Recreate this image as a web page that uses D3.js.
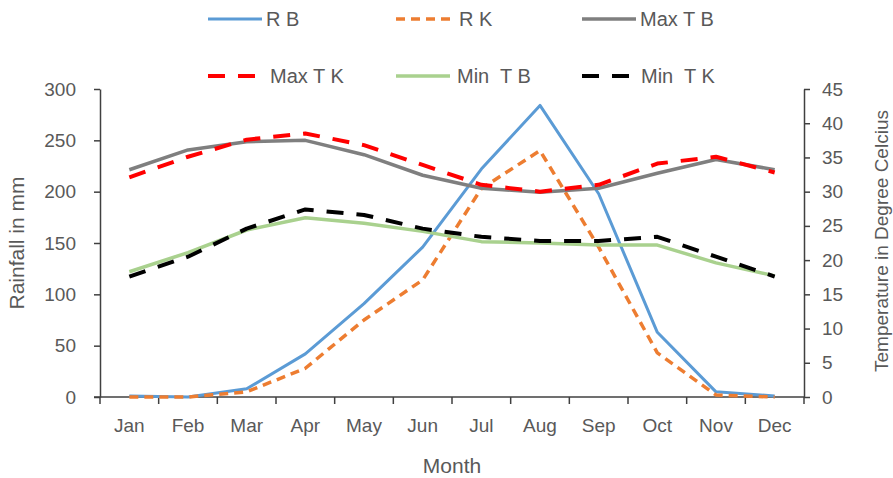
<!DOCTYPE html>
<html>
<head>
<meta charset="utf-8">
<script src="https://cdn.jsdelivr.net/npm/d3@7"></script>
<style>
  body { margin: 0; background: #fff; }
  text { font-family: "Liberation Sans", Arial, sans-serif; fill: #595959; white-space: pre; }
</style>
</head>
<body>
<div id="chart-area"></div>
<script>
var months = ["Jan","Feb","Mar","Apr","May","Jun","Jul","Aug","Sep","Oct","Nov","Dec"]

// rainfall (mm)
var rainB = [1, 0, 8, 42, 91, 146, 222, 284, 198, 63, 5, 1]
var rainK = [0, 0, 5, 28, 75, 114, 203, 240, 146, 43, 2, 0]
// temperature (deg C)
var maxTB = [33.2, 36.1, 37.3, 37.5, 35.4, 32.4, 30.5, 29.9, 30.5, 32.7, 34.7, 33.2]
var maxTK = [32.1, 35.1, 37.6, 38.5, 36.8, 33.9, 31.0, 30.0, 31.0, 34.1, 35.1, 32.8]
var minTB = [18.3, 21.1, 24.4, 26.2, 25.4, 24.2, 22.7, 22.5, 22.2, 22.2, 19.6, 17.7]
var minTK = [17.6, 20.5, 24.6, 27.4, 26.6, 24.6, 23.4, 22.8, 22.8, 23.4, 20.5, 17.6]

var rainTicks = [0, 50, 100, 150, 200, 250, 300]
var tempTicks = [0, 5, 10, 15, 20, 25, 30, 35, 40, 45]

var series = [
  {name: "R B", values: rainB, axis: "rain", color: "#5B9BD5", width: 3, dash: null, lx: 208, ly: 19, tx: 266},
  {name: "R K", values: rainK, axis: "rain", color: "#ED7D31", width: 3.5, dash: "9,6", lx: 396, ly: 19, tx: 459},
  {name: "Max T B", values: maxTB, axis: "temp", color: "#7F7F7F", width: 3.5, dash: null, lx: 582, ly: 19, tx: 640},
  {name: "Max T K", values: maxTK, axis: "temp", color: "#FF0000", width: 4, dash: "17,13", lx: 208, ly: 76, tx: 270},
  {name: "Min  T B", values: minTB, axis: "temp", color: "#A9D18E", width: 3.5, dash: null, lx: 396, ly: 76, tx: 457},
  {name: "Min  T K", values: minTK, axis: "temp", color: "#000000", width: 4, dash: "17,13", lx: 582, ly: 76, tx: 641}
]

var cw = 893, ch = 478
var m = {l: 100, t: 89, r: 89, b: 81}
var w = cw - m.l - m.r
var h = ch - m.t - m.b

var svg = d3.select("#chart-area").append("svg")
    .attr("width", cw)
    .attr("height", ch)

var g = svg.append("g").attr("transform", "translate(" + m.l + ", " + m.t + ")")

var x = d3.scaleBand()
    .domain(months)
    .range([0, w])

var yR = d3.scaleLinear().domain([0, 300]).range([h, 0])
var yT = d3.scaleLinear().domain([0, 45]).range([h, 0])

var axisColor = "#404040"

// left axis
var leftAxis = d3.axisLeft(yR).tickValues(rainTicks).tickSize(6).tickSizeOuter(0).tickPadding(18)
var la = g.append("g").call(leftAxis)
la.select(".domain").attr("stroke", axisColor).attr("stroke-width", 1.5)
la.selectAll(".tick line").attr("stroke", axisColor).attr("stroke-width", 1.5)
la.selectAll(".tick text").attr("font-size", "19px").attr("fill", "#595959")

// right axis
var rightAxis = d3.axisRight(yT).tickValues(tempTicks).tickSize(6).tickSizeOuter(0).tickPadding(12)
var ra = g.append("g").attr("transform", "translate(" + w + ",0)").call(rightAxis)
ra.select(".domain").attr("stroke", axisColor).attr("stroke-width", 1.5)
ra.selectAll(".tick line").attr("stroke", axisColor).attr("stroke-width", 1.5)
ra.selectAll(".tick text").attr("font-size", "19px").attr("fill", "#595959")

// bottom axis: labels centred in bands, ticks on band edges
var bottomAxis = d3.axisBottom(x).tickSize(0).tickPadding(22)
var ba = g.append("g").attr("transform", "translate(0," + h + ")").call(bottomAxis)
ba.select(".domain").remove()
ba.selectAll(".tick text").attr("font-size", "19px").attr("fill", "#595959")

var edges = months.map(d => x(d)).concat([x.range()[1]])
g.append("line")
    .attr("x1", -6).attr("x2", w)
    .attr("y1", h).attr("y2", h)
    .attr("stroke", axisColor).attr("stroke-width", 1.5)
g.selectAll(".edge").data(edges).enter().append("line")
    .attr("class", "edge")
    .attr("x1", d => d).attr("x2", d => d)
    .attr("y1", h).attr("y2", h + 7)
    .attr("stroke", axisColor).attr("stroke-width", 1.5)

// axis titles
g.append("text")
    .attr("x", w / 2)
    .attr("y", h + 76)
    .attr("font-size", "21px")
    .attr("text-anchor", "middle")
    .text("Month")

g.append("text")
    .attr("transform", "translate(" + (-76) + "," + (h / 2) + ") rotate(-90)")
    .attr("font-size", "21px")
    .attr("text-anchor", "middle")
    .text("Rainfall in mm")

g.append("text")
    .attr("transform", "translate(" + (w + 84) + "," + (h / 2 - 2) + ") rotate(-90)")
    .attr("font-size", "19px")
    .attr("text-anchor", "middle")
    .text("Temperature in Degree Celcius")

// lines
series.forEach(s => {
  var yy = s.axis === "rain" ? yR : yT
  var line = d3.line()
      .x((d, i) => x(months[i]) + x.bandwidth() / 2)
      .y(d => yy(d))
  g.append("path")
      .datum(s.values)
      .attr("d", line)
      .attr("fill", "none")
      .attr("stroke", s.color)
      .attr("stroke-width", s.width)
      .attr("stroke-dasharray", s.dash)
      .attr("stroke-linejoin", "round")
})

// legend
var leg = svg.append("g")
series.forEach(s => {
  leg.append("line")
      .attr("x1", s.lx).attr("x2", s.lx + 54)
      .attr("y1", s.ly).attr("y2", s.ly)
      .attr("stroke", s.color)
      .attr("stroke-width", s.width)
      .attr("stroke-dasharray", s.dash)
  leg.append("text")
      .attr("x", s.tx)
      .attr("y", s.ly)
      .attr("dy", "0.35em")
      .attr("font-size", "20px")
      .text(s.name)
})
</script>
</body>
</html>
